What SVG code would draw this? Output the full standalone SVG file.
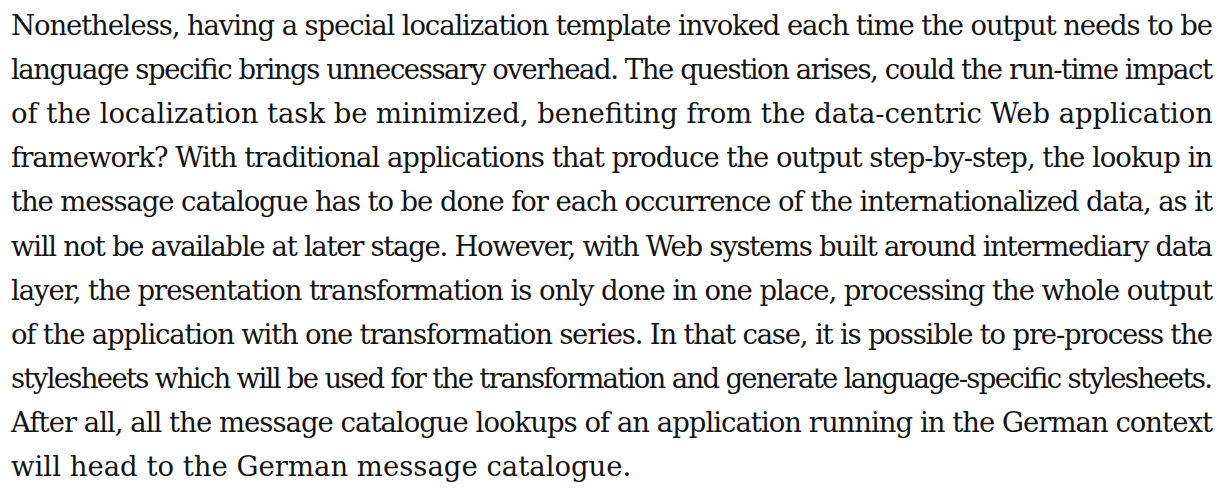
<svg xmlns="http://www.w3.org/2000/svg" width="1225" height="493" viewBox="0 0 1225 493">
  <style>
    .body { font-family: "DejaVu Serif", "Liberation Serif", serif; font-size: 27.5px; fill: #141414; }
  </style>
  <rect width="1225" height="493" fill="#ffffff"/>
  <!-- Justified paragraph: each full line is stretched to the column width -->
  <g id="paragraph" class="body">
    <text x="11" y="35" textLength="1202" lengthAdjust="spacing">Nonetheless, having a special localization template invoked each time the output needs to be</text>
    <text x="11" y="79" textLength="1202" lengthAdjust="spacing">language specific brings unnecessary overhead. The question arises, could the run-time impact</text>
    <text x="11" y="123" textLength="1202" lengthAdjust="spacing">of the localization task be minimized, benefiting from the data-centric Web application</text>
    <text x="11" y="167" textLength="1202" lengthAdjust="spacing">framework? With traditional applications that produce the output step-by-step, the lookup in</text>
    <text x="11" y="211" textLength="1202" lengthAdjust="spacing">the message catalogue has to be done for each occurrence of the internationalized data, as it</text>
    <text x="11" y="256" textLength="1202" lengthAdjust="spacing">will not be available at later stage. However, with Web systems built around intermediary data</text>
    <text x="11" y="300" textLength="1202" lengthAdjust="spacing">layer, the presentation transformation is only done in one place, processing the whole output</text>
    <text x="11" y="344" textLength="1202" lengthAdjust="spacing">of the application with one transformation series. In that case, it is possible to pre-process the</text>
    <text x="11" y="388" textLength="1202" lengthAdjust="spacing">stylesheets which will be used for the transformation and generate language-specific stylesheets.</text>
    <text x="11" y="432" textLength="1202" lengthAdjust="spacing">After all, all the message catalogue lookups of an application running in the German context</text>
    <text x="11" y="476">will head to the German message catalogue.</text>
  </g>
</svg>
